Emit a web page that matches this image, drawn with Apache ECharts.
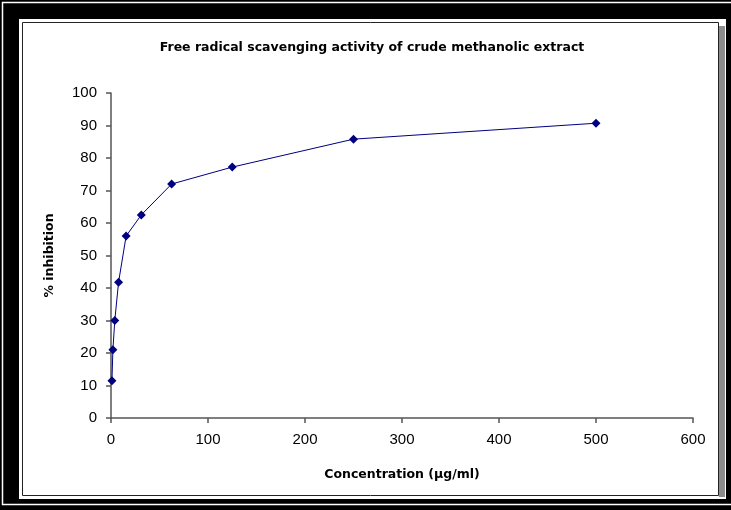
<!DOCTYPE html>
<html><head><meta charset="utf-8">
<script src="https://cdn.jsdelivr.net/npm/echarts@6/dist/echarts.min.js"></script>
<style>html,body{margin:0;padding:0;background:#fff}#c{width:731px;height:510px}</style>
</head><body><div id="c"></div>
<script>
const titleText = "Free radical scavenging activity of crude methanolic extract";
const xName = "Concentration (\u00b5g/ml)";
const yName = "% inhibition";
const concentrations = [0.98, 1.95, 3.9, 7.8, 15.6, 31.25, 62.5, 125, 250, 500];
const inhibition = [11.5, 21, 30, 41.8, 56, 62.5, 72, 77.2, 85.8, 90.7];
const xTicks = [0, 100, 200, 300, 400, 500, 600];
const yTicks = [0, 10, 20, 30, 40, 50, 60, 70, 80, 90, 100];

const chart = echarts.init(document.getElementById('c'), null, {renderer: 'canvas'});
const FONT = '"Liberation Sans", Arial, sans-serif';
const BFONT = '"DejaVu Sans", "Liberation Sans", sans-serif';
chart.setOption({
  animation: false,
  backgroundColor: '#fff',
  title: {
    text: titleText, left: 367, top: 36, textAlign: 'center',
    textStyle: {fontFamily: BFONT, fontWeight: 'bold', fontSize: 12.5, color: '#000'}
  },
  grid: {left: 111, right: 38, top: 93, bottom: 92, containLabel: false},
  xAxis: {
    type: 'value', min: xTicks[0], max: xTicks[xTicks.length - 1], interval: 100,
    name: xName, nameLocation: 'middle', nameGap: 50,
    nameTextStyle: {fontFamily: BFONT, fontWeight: 'bold', fontSize: 12.5, color: '#000'},
    axisLine: {show: true, lineStyle: {color: '#555', width: 1.5}},
    axisTick: {show: true, length: 5, lineStyle: {color: '#555', width: 1.5}},
    axisLabel: {fontFamily: FONT, fontSize: 15, color: '#000', margin: 14},
    splitLine: {show: false}
  },
  yAxis: {
    type: 'value', min: yTicks[0], max: yTicks[yTicks.length - 1], interval: 10,
    name: yName, nameLocation: 'middle', nameGap: 55, nameRotate: 90,
    nameTextStyle: {fontFamily: BFONT, fontWeight: 'bold', fontSize: 12.5, color: '#000'},
    axisLine: {show: true, lineStyle: {color: '#555', width: 1.5}},
    axisTick: {show: true, length: 5, lineStyle: {color: '#555', width: 1.5}},
    axisLabel: {fontFamily: FONT, fontSize: 15, color: '#000', margin: 14},
    splitLine: {show: false}
  },
  series: [{
    type: 'line',
    data: concentrations.map((c, i) => [c, inhibition[i]]),
    symbol: 'diamond', symbolSize: 9, showSymbol: true,
    lineStyle: {color: '#000080', width: 1},
    itemStyle: {color: '#000080'}
  }],
  graphic: [
    {type: 'rect', z: -10, silent: true, shape: {x: 0, y: 0, width: 731, height: 510}, style: {fill: '#000'}},
    {type: 'rect', z: -9, silent: true, shape: {x: 2.5, y: 2.5, width: 740, height: 502}, style: {fill: null, stroke: '#fff', lineWidth: 1.5}},
    {type: 'rect', z: -8, silent: true, shape: {x: 19, y: 19, width: 707, height: 480}, style: {fill: '#fff'}},
    {type: 'rect', z: -7, silent: true, shape: {x: 719, y: 26, width: 6, height: 471}, style: {fill: '#8c8c8c'}},
    {type: 'rect', z: -7, silent: true, shape: {x: 22.5, y: 22.5, width: 696, height: 473}, style: {fill: null, stroke: '#222', lineWidth: 1}}
  ]
});
</script></body></html>
